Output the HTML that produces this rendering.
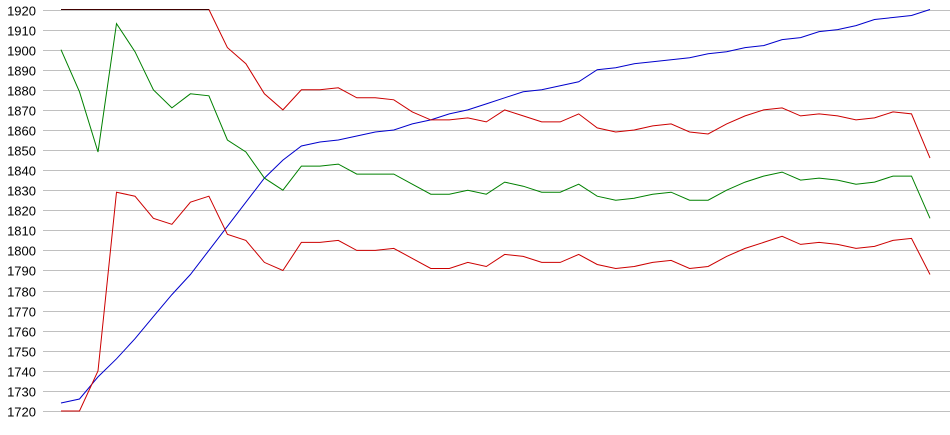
<!DOCTYPE html>
<html><head><meta charset="utf-8"><style>
html,body{margin:0;padding:0;background:#fff;width:950px;height:435px;overflow:hidden}
svg{display:block}
text{font-family:"Liberation Sans",Arial,sans-serif;font-size:13px;fill:#000}
</style></head><body>
<svg id="c" width="950" height="435" xmlns="http://www.w3.org/2000/svg">
<g id="grid"></g>
<g id="lines" fill="none" stroke-width="1"></g>
</svg>
<script>
const svg=document.getElementById('c'),grid=document.getElementById('grid'),lines=document.getElementById('lines');
const NS='http://www.w3.org/2000/svg';
const Y=v=>411-(v-1720)*2.0075;
for(let v=1720;v<=1920;v+=10){
 const y=Math.round(Y(v))+0.5;
 const l=document.createElementNS(NS,'line');
 l.setAttribute('x1',43);l.setAttribute('x2',950);l.setAttribute('y1',y);l.setAttribute('y2',y);
 l.setAttribute('stroke','#c0c0c0');grid.appendChild(l);
 const t=document.createElementNS(NS,'text');
 t.setAttribute('x',36);t.setAttribute('y',y+5);t.setAttribute('text-anchor','end');t.textContent=v;grid.appendChild(t);
}
const X=i=>61+i*(930-61)/47;
const series=[
 ['#0000cc',[1724,1726,1737,1746,1756,1767,1778,1788,1800,1812,1824,1836,1845,1852,1854,1855,1857,1859,1860,1863,1865,1868,1870,1873,1876,1879,1880,1882,1884,1890,1891,1893,1894,1895,1896,1898,1899,1901,1902,1905,1906,1909,1910,1912,1915,1916,1917,1920]],
 ['#008000',[1900,1879,1849,1913,1899,1880,1871,1878,1877,1855,1849,1836,1830,1842,1842,1843,1838,1838,1838,1833,1828,1828,1830,1828,1834,1832,1829,1829,1833,1827,1825,1826,1828,1829,1825,1825,1830,1834,1837,1839,1835,1836,1835,1833,1834,1837,1837,1816]],
 ['#cc0000',[1720,1720,1740,1829,1827,1816,1813,1824,1827,1808,1805,1794,1790,1804,1804,1805,1800,1800,1801,1796,1791,1791,1794,1792,1798,1797,1794,1794,1798,1793,1791,1792,1794,1795,1791,1792,1797,1801,1804,1807,1803,1804,1803,1801,1802,1805,1806,1788]],
 ['#cc0000',[1920,1920,1920,1920,1920,1920,1920,1920,1920,1901,1893,1878,1870,1880,1880,1881,1876,1876,1875,1869,1865,1865,1866,1864,1870,1867,1864,1864,1868,1861,1859,1860,1862,1863,1859,1858,1863,1867,1870,1871,1867,1868,1867,1865,1866,1869,1868,1846]]
];
for(const [c,d] of series){
 const p=document.createElementNS(NS,'polyline');
 p.setAttribute('points',d.map((v,i)=>X(i).toFixed(1)+','+Y(v).toFixed(1)).join(' '));
 p.setAttribute('stroke',c);lines.appendChild(p);
}
const f=document.createElementNS(NS,'line');
f.setAttribute('x1',61);f.setAttribute('x2',209);f.setAttribute('y1',9.5);f.setAttribute('y2',9.5);f.setAttribute('stroke','#400000');lines.appendChild(f);
</script>
</body></html>
